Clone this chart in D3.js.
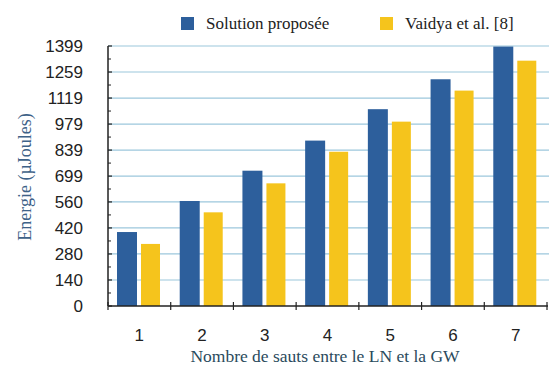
<!DOCTYPE html>
<html><head><meta charset="utf-8">
<script src="https://cdn.jsdelivr.net/npm/d3@7"></script>
<style>body{margin:0;background:#fff}</style>
</head><body>
<script>
const categories = ["1","2","3","4","5","6","7"];
const seriesNames = ["Solution proposée","Vaidya et al. [8]"];
const solution = [398, 565, 728, 890, 1059, 1220, 1396];
const vaidya = [334, 504, 660, 830, 992, 1159, 1320];
const yTicks = [0,140,280,420,560,699,839,979,1119,1259,1399];
const colors = ["#2d5f9c","#f5c41c"];

const W=551,H=374;
const m={l:108,r:4,t:46,b:68};
const svg=d3.select("body").append("svg").attr("width",W).attr("height",H);
const x=d3.scaleBand().domain(categories).range([m.l,547]).paddingInner(0).paddingOuter(0);
const y=d3.scaleLinear().domain([0,1399]).range([306,46]);

// gridlines
svg.append("g").selectAll("line").data(yTicks.slice(1)).join("line")
 .attr("x1",m.l).attr("x2",549).attr("y1",d=>y(d)).attr("y2",d=>y(d))
 .attr("stroke","#9cc7dc").attr("stroke-width",1.2);

// bars
const bw=20, gap=4;
categories.forEach((c,i)=>{
  const x0=x(c)+9;
  svg.append("rect").attr("x",x0).attr("width",bw).attr("y",y(solution[i])).attr("height",y(0)-y(solution[i])).attr("fill",colors[0]);
  svg.append("rect").attr("x",x0+bw+gap).attr("width",bw-1).attr("y",y(vaidya[i])).attr("height",y(0)-y(vaidya[i])).attr("fill",colors[1]);
});

// y axis
const yAxis=svg.append("g");
yAxis.append("line").attr("x1",m.l).attr("x2",m.l).attr("y1",y(1399)).attr("y2",y(0)).attr("stroke","#222").attr("stroke-width",1.5);
const minor=[];
for(let i=0;i<yTicks.length-1;i++){minor.push((yTicks[i]+yTicks[i+1])/2);}
yAxis.selectAll(".mj").data(yTicks).join("line").attr("x1",m.l).attr("x2",m.l+4).attr("y1",d=>y(d)).attr("y2",d=>y(d)).attr("stroke","#222").attr("stroke-width",1.2);
yAxis.selectAll(".mn").data(minor).join("line").attr("x1",m.l).attr("x2",m.l+3).attr("y1",d=>y(d)).attr("y2",d=>y(d)).attr("stroke","#222").attr("stroke-width",1);
yAxis.selectAll("text").data(yTicks).join("text").attr("x",83).attr("y",d=>y(d)+6)
 .attr("text-anchor","end").attr("font-family","Liberation Sans, Arial, sans-serif").attr("font-size",17).attr("fill","#222").text(d=>d);

// x axis
const xAxis=svg.append("g");
xAxis.append("line").attr("x1",m.l).attr("x2",548).attr("y1",306).attr("y2",306).attr("stroke","#222").attr("stroke-width",1.5);
const bounds=categories.map(c=>x(c)).concat([x.range()[1]]);
xAxis.selectAll(".tk").data(bounds).join("line").attr("x1",d=>d).attr("x2",d=>d).attr("y1",302).attr("y2",310).attr("stroke","#222").attr("stroke-width",1.2);
xAxis.selectAll("text").data(categories).join("text").attr("x",d=>x(d)+x.bandwidth()/2).attr("y",341)
 .attr("text-anchor","middle").attr("font-family","Liberation Sans, Arial, sans-serif").attr("font-size",17).attr("fill","#222").text(d=>d);

// axis titles
svg.append("text").attr("x",325).attr("y",362).attr("text-anchor","middle")
 .attr("font-family","Liberation Serif, Times New Roman, serif").attr("font-size",17.5).attr("fill","#2a4a5c")
 .text("Nombre de sauts entre le LN et la GW");
svg.append("text").attr("transform","translate(31,177) rotate(-90)").attr("text-anchor","middle")
 .attr("font-family","Liberation Serif, Times New Roman, serif").attr("font-size",18).attr("fill","#3e6288")
 .text("Energie (µJoules)");

// legend
const leg=[{x:181,tx:206},{x:380,tx:405}];
seriesNames.forEach((n,i)=>{
  svg.append("rect").attr("x",leg[i].x).attr("y",17).attr("width",13).attr("height",13).attr("fill",colors[i]);
  svg.append("text").attr("x",leg[i].tx).attr("y",29).attr("font-family","Liberation Serif, Times New Roman, serif")
   .attr("font-size",17).attr("fill","#222").text(n);
});
</script>
</body></html>
